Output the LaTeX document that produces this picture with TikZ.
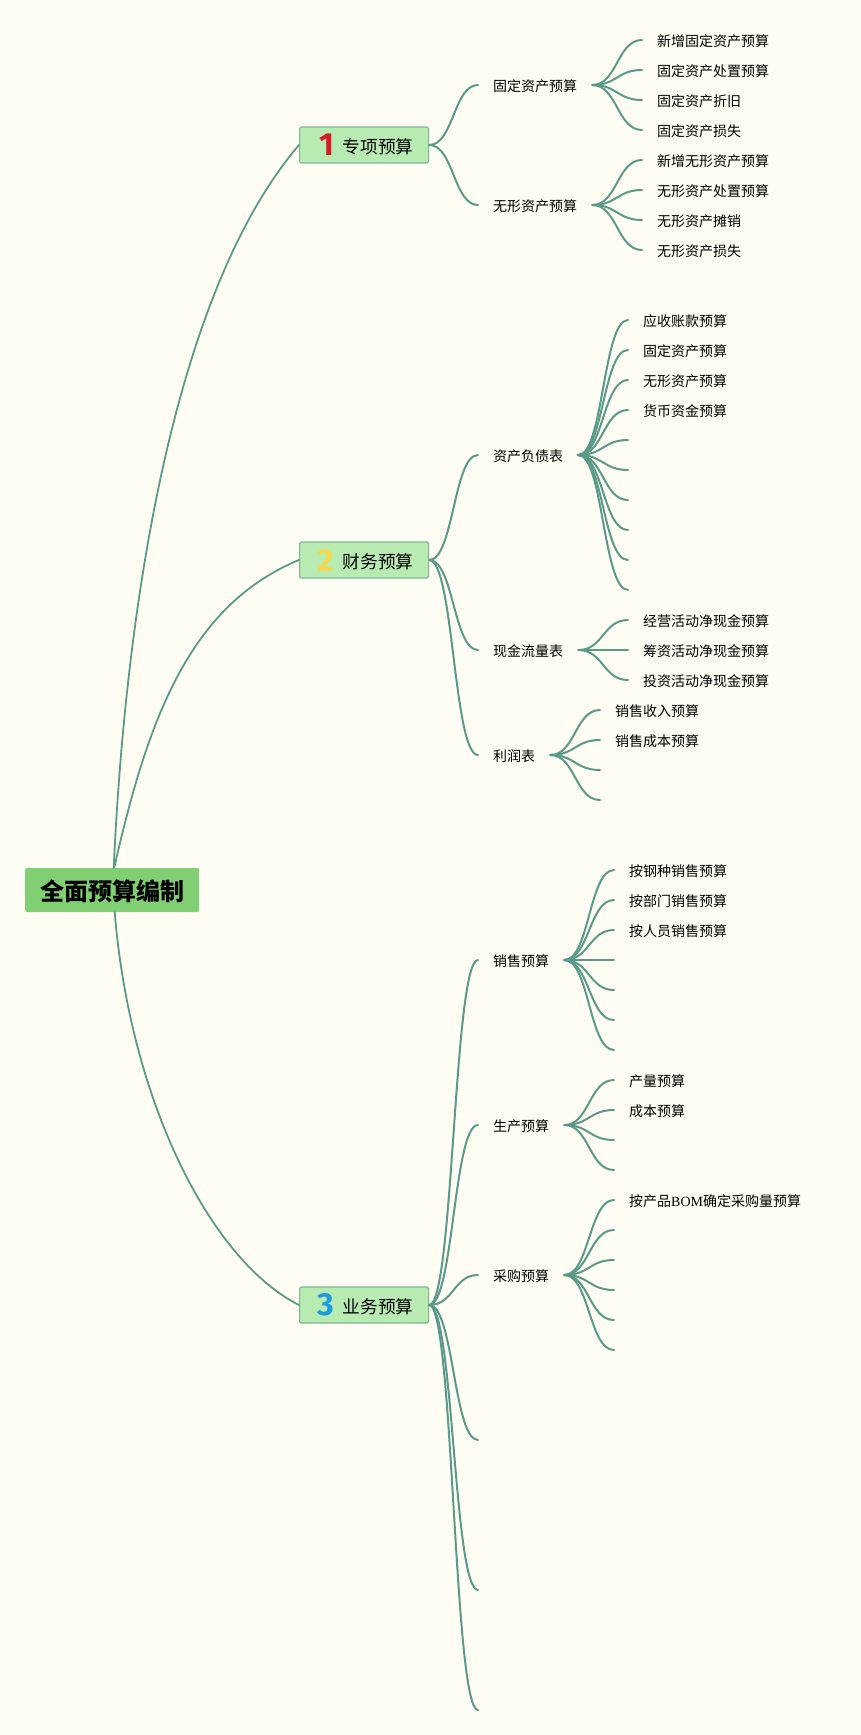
\documentclass[tikz,border=0pt]{standalone}
\usepackage{fontspec}
\setmainfont{Noto Sans CJK SC}
\newfontfamily\latinserif{Liberation Serif}
\newfontfamily\digitfont{Fira Sans}
\usetikzlibrary{calc}
\definecolor{bgc}{HTML}{FFFDF3}
\definecolor{rootc}{HTML}{80CF73}
\definecolor{boxc}{HTML}{B8EBB1}
\definecolor{boxb}{HTML}{7DB797}
\definecolor{linec}{HTML}{5B9A89}
\definecolor{redd}{HTML}{D7192B}
\definecolor{yeld}{HTML}{F5D84E}
\definecolor{blud}{HTML}{1E9BE0}
\tikzset{
  x=1pt,y=-1pt,
  conn/.style={draw=linec,line width=2pt,line cap=round},
  mainconn/.style={draw=linec,line width=1.8pt,line cap=round},
  sc/.style={to path={let \p1=(\tikztostart),\p2=(\tikztotarget) in .. controls ({0.5*(\x1+\x2)},\y1) and ({0.5*(\x1+\x2)},\y2) .. (\tikztotarget)}},
  rootbox/.style={fill=rootc,rounded corners=2pt,minimum width=174pt,minimum height=44pt,inner sep=0pt,font=\bfseries\fontsize{24}{24}\selectfont,anchor=west,text height=20pt,text depth=0pt},
  topic/.style={fill=boxc,draw=boxb,line width=1.2pt,rounded corners=1.5pt,minimum width=129pt,minimum height=36pt,inner sep=0pt,font=\fontsize{17.7}{18}\selectfont,anchor=west,text height=17pt,text depth=0pt},
  num/.style={font=\digitfont\bfseries\fontsize{32}{32}\selectfont,inner sep=0pt},
  sub/.style={anchor=west,inner xsep=15pt,inner ysep=0pt,font=\fontsize{14}{14}\selectfont,text height=13.3pt,text depth=0pt},
}
\begin{document}
\begin{tikzpicture}
\useasboundingbox (0,0) rectangle (861,1735);
\fill[bgc] (0,0) rectangle (861,1735);

% nodes
\node[rootbox] (root) at (25,890) {全面预算编制};
\node[topic] (b1) at (299,145) {\hspace{28pt}专项预算};
\node[topic] (b2) at (299,560) {\hspace{28pt}财务预算};
\node[topic] (b3) at (299,1305) {\hspace{28pt}业务预算};
\node[num,text=redd] (n1) at (326.5,145) {1};
\node[num,text=yeld] (n2) at (326,560) {2};
\node[num,text=blud] (n3) at (326,1305) {3};

\node[sub] (a1) at (478,85) {固定资产预算};
\node[sub] (a2) at (478,205) {无形资产预算};
\node[sub] (f1) at (478,455) {资产负债表};
\node[sub] (f2) at (478,650) {现金流量表};
\node[sub] (f3) at (478,755) {利润表};
\node[sub] (y1) at (478,960) {销售预算};
\node[sub] (y2) at (478,1125) {生产预算};
\node[sub] (y3) at (478,1275) {采购预算};
\coordinate (y4) at (478,1440);
\coordinate (y5) at (478,1590);
\coordinate (y6) at (478,1710);

\node[sub] (a11) at (642,40) {新增固定资产预算};
\node[sub] (a12) at (642,70) {固定资产处置预算};
\node[sub] (a13) at (642,100) {固定资产折旧};
\node[sub] (a14) at (642,130) {固定资产损失};
\node[sub] (a21) at (642,160) {新增无形资产预算};
\node[sub] (a22) at (642,190) {无形资产处置预算};
\node[sub] (a23) at (642,220) {无形资产摊销};
\node[sub] (a24) at (642,250) {无形资产损失};

\node[sub] (f11) at (628,320) {应收账款预算};
\node[sub] (f12) at (628,350) {固定资产预算};
\node[sub] (f13) at (628,380) {无形资产预算};
\node[sub] (f14) at (628,410) {货币资金预算};
\coordinate (f15) at (628,440);
\coordinate (f16) at (628,470);
\coordinate (f17) at (628,500);
\coordinate (f18) at (628,530);
\coordinate (f19) at (628,560);
\coordinate (f110) at (628,590);

\node[sub] (f21) at (628,620) {经营活动净现金预算};
\node[sub] (f22) at (628,650) {筹资活动净现金预算};
\node[sub] (f23) at (628,680) {投资活动净现金预算};

\node[sub] (f31) at (600,710) {销售收入预算};
\node[sub] (f32) at (600,740) {销售成本预算};
\coordinate (f33) at (600,770);
\coordinate (f34) at (600,800);

\node[sub] (y11) at (614,870) {按钢种销售预算};
\node[sub] (y12) at (614,900) {按部门销售预算};
\node[sub] (y13) at (614,930) {按人员销售预算};
\coordinate (y14) at (614,960);
\coordinate (y15) at (614,990);
\coordinate (y16) at (614,1020);
\coordinate (y17) at (614,1050);

\node[sub] (y21) at (614,1080) {产量预算};
\node[sub] (y22) at (614,1110) {成本预算};
\coordinate (y23) at (614,1140);
\coordinate (y24) at (614,1170);

\node[sub] (y31) at (614,1200) {按产品{\latinserif BOM}确定采购量预算};
\coordinate (y32) at (614,1230);
\coordinate (y33) at (614,1260);
\coordinate (y34) at (614,1290);
\coordinate (y35) at (614,1320);
\coordinate (y36) at (614,1350);

% root connectors
\draw[mainconn] ($(root.north)+(1.5,0)$) .. controls (126,600) and (175,290) .. (b1.west);
\draw[mainconn] ($(root.north)+(2,0)$) .. controls (148,718) and (190,605) .. (b2.west);
\draw[mainconn] ($(root.south)+(2.5,0)$) .. controls (130,1100) and (210,1260) .. (b3.west);

% topic connectors
\foreach \t in {a1,a2} \draw[conn] (b1.east) to[sc] (\t.west);
\foreach \t in {f1,f2,f3} \draw[conn] (b2.east) to[sc] (\t.west);
\foreach \t in {y1,y2,y3} \draw[conn] (b3.east) to[sc] (\t.west);
\foreach \t in {y4,y5,y6} \draw[conn] (b3.east) to[sc] (\t);

% sub connectors
\foreach \t in {a11,a12,a13,a14} \draw[conn] (a1.east) to[sc] (\t.west);
\foreach \t in {a21,a22,a23,a24} \draw[conn] (a2.east) to[sc] (\t.west);
\foreach \t in {f11,f12,f13,f14} \draw[conn] (f1.east) to[sc] (\t.west);
\foreach \t in {f15,f16,f17,f18,f19,f110} \draw[conn] (f1.east) to[sc] (\t);
\foreach \t in {f21,f22,f23} \draw[conn] (f2.east) to[sc] (\t.west);
\foreach \t in {f31,f32} \draw[conn] (f3.east) to[sc] (\t.west);
\foreach \t in {f33,f34} \draw[conn] (f3.east) to[sc] (\t);
\foreach \t in {y11,y12,y13} \draw[conn] (y1.east) to[sc] (\t.west);
\foreach \t in {y14,y15,y16,y17} \draw[conn] (y1.east) to[sc] (\t);
\foreach \t in {y21,y22} \draw[conn] (y2.east) to[sc] (\t.west);
\foreach \t in {y23,y24} \draw[conn] (y2.east) to[sc] (\t);
\draw[conn] (y3.east) to[sc] (y31.west);
\foreach \t in {y32,y33,y34,y35,y36} \draw[conn] (y3.east) to[sc] (\t);
\end{tikzpicture}
\end{document}
